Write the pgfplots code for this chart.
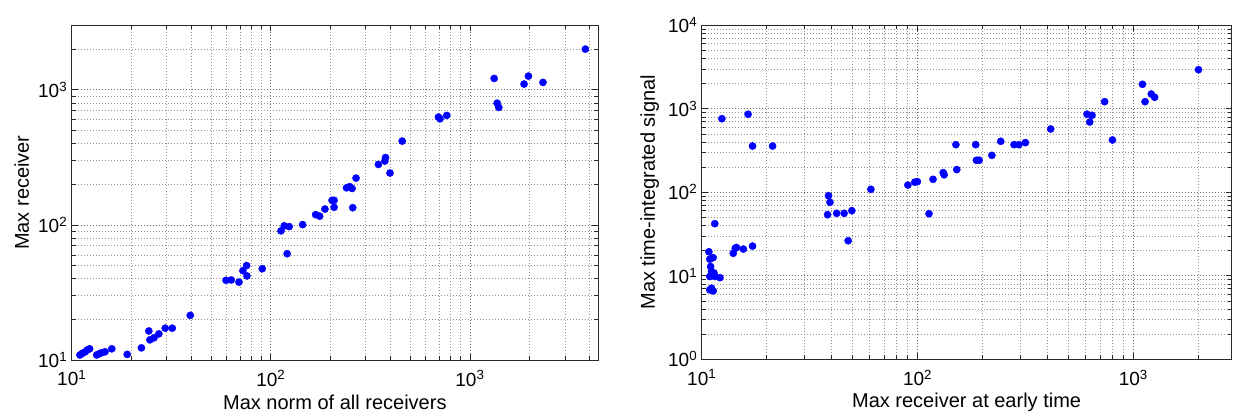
\documentclass[border=0pt]{standalone}
\usepackage{fontspec}
\setmainfont{Liberation Sans}
\usepackage{pgfplots}
\pgfplotsset{compat=1.18}

\definecolor{gridgray}{RGB}{110,110,110}
\definecolor{boxgray}{RGB}{40,40,40}

\pgfplotsset{
  matlabstyle/.style={
    scale only axis,
    anchor=south west,
    axis line style={boxgray, line width=0.9pt},
    every tick/.style={boxgray, line width=0.7pt},
    tick pos=both,
    tick align=inside,
    major tick length=6pt,
    minor tick length=4pt,
    grid=both,
    major grid style={gridgray, line width=0.7pt, dash pattern=on 1pt off 2pt},
    minor grid style={gridgray!75, line width=0.7pt, dash pattern=on 1pt off 2pt},
    tick label style={font=\fontsize{19}{22}\selectfont, text=black},
    label style={font=\fontsize{20}{24}\selectfont, text=black},
    xticklabel style={yshift=-7pt},
    yticklabel style={xshift=-1pt},
  },
  dots/.style={only marks, mark=*, mark size=3.6pt, blue, mark options={draw=blue, fill=blue}},
}

% max norm of all receivers vs. max receiver
\pgfplotstableread{
x y
11.0 10.9
11.3 11.2
11.7 11.5
12.0 11.9
12.3 12.1
13.35 10.9
13.7 11.1
14.1 11.3
14.7 11.5
15.9 12.1
19.0 11.0
22.4 12.3
24.4 16.4
24.7 14.1
25.9 14.6
27.4 15.6
29.5 17.2
32.0 17.2
39.4 21.4
59.6 38.9
63.3 39.1
69.2 37.7
72.4 45.8
75.6 50.0
75.9 41.9
90.6 47.4
112.5 90.3
116.8 98.4
123.7 97.1
120.8 61.2
144.5 100.5
168 119
176 116
187 131
203 152
208 152
208 135
258 134
240 188
249 192
256 186
268 222
347 280
374 297
377 315
397 242
457 417
695 628
708 610
765 646
1324 1213
1370 796
1397 740
1871 1102
1968 1262
2328 1133
3800 2000
}\normtable

% max receiver at early time vs. max time-integrated signal
\pgfplotstableread{
x y
10.8 19.4
10.9 15.8
11.3 16.5
11.0 12.9
11.1 11.2
11.4 10.8
10.9 9.8
11.5 9.8
12.15 9.5
11.1 7.1
10.9 6.8
11.3 6.6
11.5 42.1
12.4 761
14.0 18.6
14.3 21.4
14.5 21.8
15.6 20.9
17.2 22.7
16.4 860
17.2 358
21.3 358
38.7 91
39.3 75.9
38.3 53.9
42.2 56
45.7 56
49.6 60.2
47.7 26.3
60.8 108.6
90.2 122
97.1 132
99.8 134
113 55.4
118 143
131.5 172
132.8 162
152 187
150.6 372
186 372
187.5 242
193 242
221 277
243 408
280 372
295 372
316 393
414 573
610 860
643 836
628 695
736 1217
800 423
1102 1965
1133 1217
1211 1503
1255 1374
2004 2939
}\earlytable

\begin{document}
\begin{tikzpicture}[x=1pt,y=1pt]
\useasboundingbox (0,0) rectangle (1233,417);

\begin{loglogaxis}[matlabstyle,
  at={(71.7pt,57pt)}, width=526.3pt, height=334.7pt,
  xmin=10, xmax=4400, ymin=10, ymax=3000,
  xtick={10,100,1000},
  xticklabels={10\textsuperscript{1},10\textsuperscript{2},10\textsuperscript{3}},
  minor xtick={20,30,40,50,60,70,80,90,200,300,400,500,600,700,800,900,2000,3000,4000},
  ytick={10,100,1000},
  yticklabels={10\textsuperscript{1},10\textsuperscript{2},10\textsuperscript{3}},
  minor ytick={20,30,40,50,60,70,80,90,200,300,400,500,600,700,800,900,2000},
  xlabel={Max norm of all receivers},
  ylabel={Max receiver},
  xlabel style={at={(axis description cs:0.5,-0.128)}, anchor=center},
  ylabel style={at={(axis description cs:-0.095,0.5)}, anchor=center},
]
\addplot[dots] table[x=x,y=y] {\normtable};
\end{loglogaxis}

\begin{loglogaxis}[matlabstyle,
  at={(701.7pt,57.7pt)}, width=529.8pt, height=334pt,
  xmin=10, xmax=2850, ymin=1, ymax=10000,
  xtick={10,100,1000},
  xticklabels={10\textsuperscript{1},10\textsuperscript{2},10\textsuperscript{3}},
  minor xtick={20,30,40,50,60,70,80,90,200,300,400,500,600,700,800,900,2000},
  ytick={1,10,100,1000,10000},
  yticklabels={10\textsuperscript{0},10\textsuperscript{1},10\textsuperscript{2},10\textsuperscript{3},10\textsuperscript{4}},
  minor ytick={2,3,4,5,6,7,8,9,20,30,40,50,60,70,80,90,200,300,400,500,600,700,800,900,2000,3000,4000,5000,6000,7000,8000,9000},
  xlabel={Max receiver at early time},
  ylabel={Max time-integrated signal},
  xlabel style={at={(axis description cs:0.5,-0.128)}, anchor=center},
  ylabel style={at={(axis description cs:-0.098,0.5)}, anchor=center},
]
\addplot[dots] table[x=x,y=y] {\earlytable};
\end{loglogaxis}
\end{tikzpicture}
\end{document}
